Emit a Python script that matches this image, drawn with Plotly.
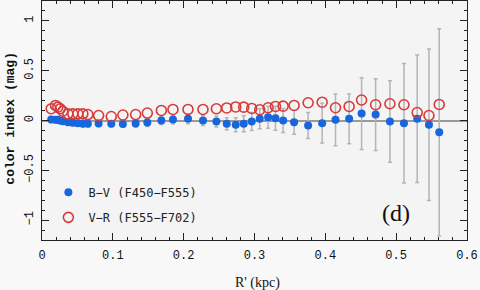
import plotly.graph_objects as go

# Projected radius R' (kpc)
radius_kpc = [0.0130, 0.0191, 0.0223, 0.0257, 0.0294, 0.0365, 0.0435, 0.0506, 0.0577, 0.0647,
              0.0799, 0.0978, 0.1142, 0.1322, 0.1487, 0.1685, 0.1849, 0.2061, 0.2273, 0.2462,
              0.2608, 0.2735, 0.2848, 0.2961, 0.3074, 0.3192, 0.3296, 0.3404, 0.3559, 0.3757,
              0.3955, 0.4144, 0.4336, 0.4512, 0.4710, 0.4912, 0.5110, 0.5297, 0.5463, 0.5608]

# B-V (F450-F555)
b_minus_v = [0.010, 0.007, 0.007, 0.000, -0.007, -0.017, -0.023, -0.027, -0.033, -0.033,
             -0.030, -0.033, -0.035, -0.030, -0.020, 0.000, 0.010, 0.017, 0.000, -0.010,
             -0.033, -0.043, -0.033, -0.010, 0.017, 0.033, 0.023, 0.000, -0.017, -0.050,
             -0.027, 0.007, 0.017, 0.070, 0.060, -0.010, -0.027, 0.017, -0.043, -0.118]

b_minus_v_err = [0.03, 0.03, 0.03, 0.03, 0.03, 0.03, 0.03, 0.03, 0.03, 0.03,
                 0.03, 0.03, 0.03, 0.035, 0.04, 0.04, 0.045, 0.05, 0.05, 0.055,
                 0.06, 0.07, 0.08, 0.09, 0.10, 0.11, 0.12, 0.12, 0.12, 0.13,
                 0.20, 0.26, 0.25, 0.36, 0.36, 0.41, 0.60, 0.64, 0.76, 1.04]

# V-R (F555-F702)
v_minus_r = [0.118, 0.151, 0.134, 0.118, 0.093, 0.067, 0.067, 0.067, 0.067, 0.060,
             0.050, 0.040, 0.055, 0.060, 0.075, 0.101, 0.111, 0.111, 0.111, 0.118,
             0.126, 0.136, 0.134, 0.121, 0.108, 0.128, 0.141, 0.144, 0.151, 0.178,
             0.184, 0.128, 0.141, 0.206, 0.158, 0.168, 0.158, 0.080, 0.050, 0.161]

x_ticks = [0, 0.1, 0.2, 0.3, 0.4, 0.5, 0.6]
x_tick_labels = ["0", "0.1", "0.2", "0.3", "0.4", "0.5", "0.6"]
y_ticks = [-1, -0.5, 0, 0.5, 1]
y_tick_labels = ["\u22121", "\u22120.5", "0", "0.5", "1"]

tick_font = dict(family="Liberation Mono", size=12, color="#111")

fig = go.Figure()
fig.add_trace(go.Scatter(
    x=radius_kpc, y=b_minus_v, mode="markers", name="B\u2212V (F450\u2212F555)",
    legendgroup="bv",
    marker=dict(symbol="circle", size=8, color="#1766dc"),
    error_y=dict(type="data", array=b_minus_v_err, visible=True,
                 color="#b4b4b4", thickness=1.5, width=2),
))
fig.add_trace(go.Scatter(
    x=radius_kpc, y=v_minus_r, mode="markers", name="V\u2212R (F555\u2212F702)",
    legendgroup="vr",
    marker=dict(symbol="circle-open", size=10, color="#d83a3a", line=dict(width=1.6)),
))

axis_common = dict(showline=True, linecolor="#222", linewidth=1, mirror="allticks",
                   ticks="inside", ticklen=7, tickcolor="#222", showgrid=False,
                   tickfont=tick_font, automargin=False)

fig.update_xaxes(range=[0, 0.6], tickvals=x_ticks, ticktext=x_tick_labels,
                 zeroline=False, ticklabelstandoff=4,
                 minor=dict(ticks="inside", ticklen=3, dtick=0.02, tick0=0, tickcolor="#222"),
                 **axis_common)
fig.update_yaxes(range=[-1.2, 1.2], tickvals=y_ticks, ticktext=y_tick_labels,
                 tickangle=-90, ticklabelstandoff=3,
                 zeroline=True, zerolinecolor="#9a9a9a", zerolinewidth=2,
                 minor=dict(ticks="inside", ticklen=3, dtick=0.1, tick0=0, tickcolor="#222"),
                 **axis_common)

fig.update_layout(
    width=480, height=290,
    margin=dict(l=42, r=13, t=1, b=50),
    paper_bgcolor="#f8f8f8", plot_bgcolor="#f4f4f4",
    showlegend=True,
    legend=dict(x=0.015, y=0.26, xanchor="left", yanchor="top",
                bgcolor="rgba(0,0,0,0)", font=dict(family="DejaVu Sans Mono", size=12, color="#222"),
                tracegroupgap=6, itemwidth=30),
    annotations=[
        dict(text="color index (mag)", xref="paper", yref="paper", x=-0.074, y=0.51,
             textangle=-90, showarrow=False, xanchor="center", yanchor="middle",
             font=dict(family="Liberation Mono", size=13, color="#111", weight="bold")),
        dict(text="R' (kpc)", xref="paper", yref="paper", x=0.507, y=-0.18,
             showarrow=False, xanchor="center", yanchor="middle",
             font=dict(family="Liberation Serif", size=14, color="#111")),
        dict(text="(d)", xref="paper", yref="paper", x=0.833, y=0.113,
             showarrow=False, xanchor="center", yanchor="middle",
             font=dict(family="Liberation Serif", size=24, color="#111")),
    ],
)

fig.write_html("out.html", config={"displayModeBar": False},
               post_script="document.body.style.margin='0';document.body.style.background='#f8f8f8';")
